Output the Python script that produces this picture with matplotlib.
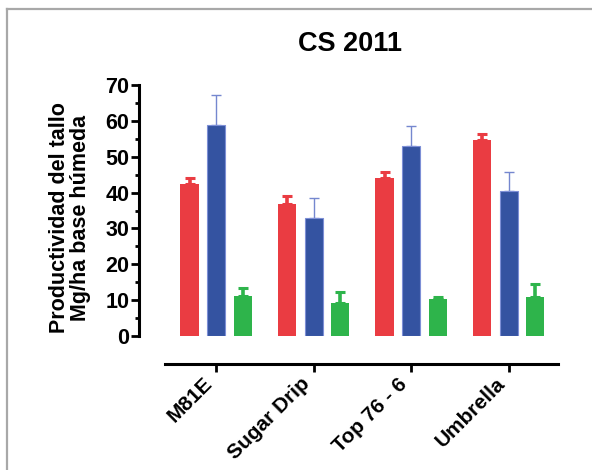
import numpy as np
import matplotlib
matplotlib.use('Agg')
import matplotlib.pyplot as plt
from matplotlib.ticker import MultipleLocator

plt.rcParams['font.family'] = ['Liberation Sans', 'DejaVu Sans']
plt.rcParams['font.weight'] = 'bold'

# data
varieties = ['M81E', 'Sugar Drip', 'Top 76 - 6', 'Umbrella']
red_vals = [42.4, 36.7, 44.1, 54.6]
red_err = [1.7, 2.3, 1.7, 1.7]
blue_vals = [58.8, 33.0, 53.1, 40.3]
blue_err = [8.3, 5.5, 5.4, 5.4]
green_vals = [11.1, 9.2, 10.4, 10.9]
green_err = [2.2, 3.0, 0.5, 3.6]

red = '#ea3c42'
blue = '#3453a1'
green = '#2eb44b'

fig = plt.figure(figsize=(5.92, 4.70), dpi=100)
# light gray frame around the figure
fig.add_artist(plt.Line2D([7/592, 7/592], [0, 1 - 9/470], color='#a8a8a8', lw=1.6))
fig.add_artist(plt.Line2D([7/592, 1], [1 - 9/470, 1 - 9/470], color='#a8a8a8', lw=1.6))

ax = fig.add_axes([139/592, 1 - 336/470, 421/592, 251/470])

x = np.arange(len(varieties))
off = 0.272
w = 0.185
ekw = dict(capsize=3.8, capthick=2.2, elinewidth=2.6)

ax.bar(x - off, red_vals, w, color=red, zorder=2)
ax.errorbar(x - off, red_vals, yerr=[np.zeros(4), red_err], fmt='none', ecolor=red, zorder=1, **ekw)
ax.bar(x, blue_vals, w, color=blue, edgecolor='#7d8fd6', linewidth=0.8, zorder=2)
ax.errorbar(x, blue_vals, yerr=[np.zeros(4), blue_err], fmt='none', ecolor='#7587cf',
            capsize=3.8, capthick=1.0, elinewidth=1.0, zorder=1)
ax.bar(x + off, green_vals, w, color=green, zorder=2)
ax.errorbar(x + off, green_vals, yerr=[np.zeros(4), green_err], fmt='none', ecolor=green, zorder=1, **ekw)

ax.set_xlim(-0.79, 3.528)
ax.set_ylim(0, 70)

for s in ['top', 'right']:
    ax.spines[s].set_visible(False)
ax.spines['left'].set_linewidth(2.2)
ax.spines['left'].set_bounds(0, 70)
ax.spines['bottom'].set_linewidth(2.2)
ax.spines['bottom'].set_bounds(-0.52, 3.51)
ax.spines['bottom'].set_position(('outward', 20))

ax.yaxis.set_major_locator(MultipleLocator(10))
ax.yaxis.set_minor_locator(MultipleLocator(5))
ax.tick_params(axis='y', which='major', length=6, width=2.0, labelsize=15.5, pad=1)
ax.tick_params(axis='y', which='minor', length=3, width=2.0)
ax.tick_params(axis='x', which='major', length=5.5, width=2.0, labelsize=15, pad=2)

ax.set_xticks(x)
ax.set_xticklabels(varieties, rotation=45, ha='right', va='top')
for lab in ax.get_yticklabels() + ax.get_xticklabels():
    lab.set_fontweight('bold')

fig.text(350/592, 1 - 44/470, 'CS 2011', ha='center', va='center', fontsize=19.5, fontweight='bold')
fig.text(70/592, 1 - 218/470, 'Productividad del tallo\nMg/ha base húmeda', rotation=90,
         ha='center', va='center', multialignment='center', fontsize=15.5, fontweight='bold',
         linespacing=1.05)

plt.savefig('out.png', dpi=100)
